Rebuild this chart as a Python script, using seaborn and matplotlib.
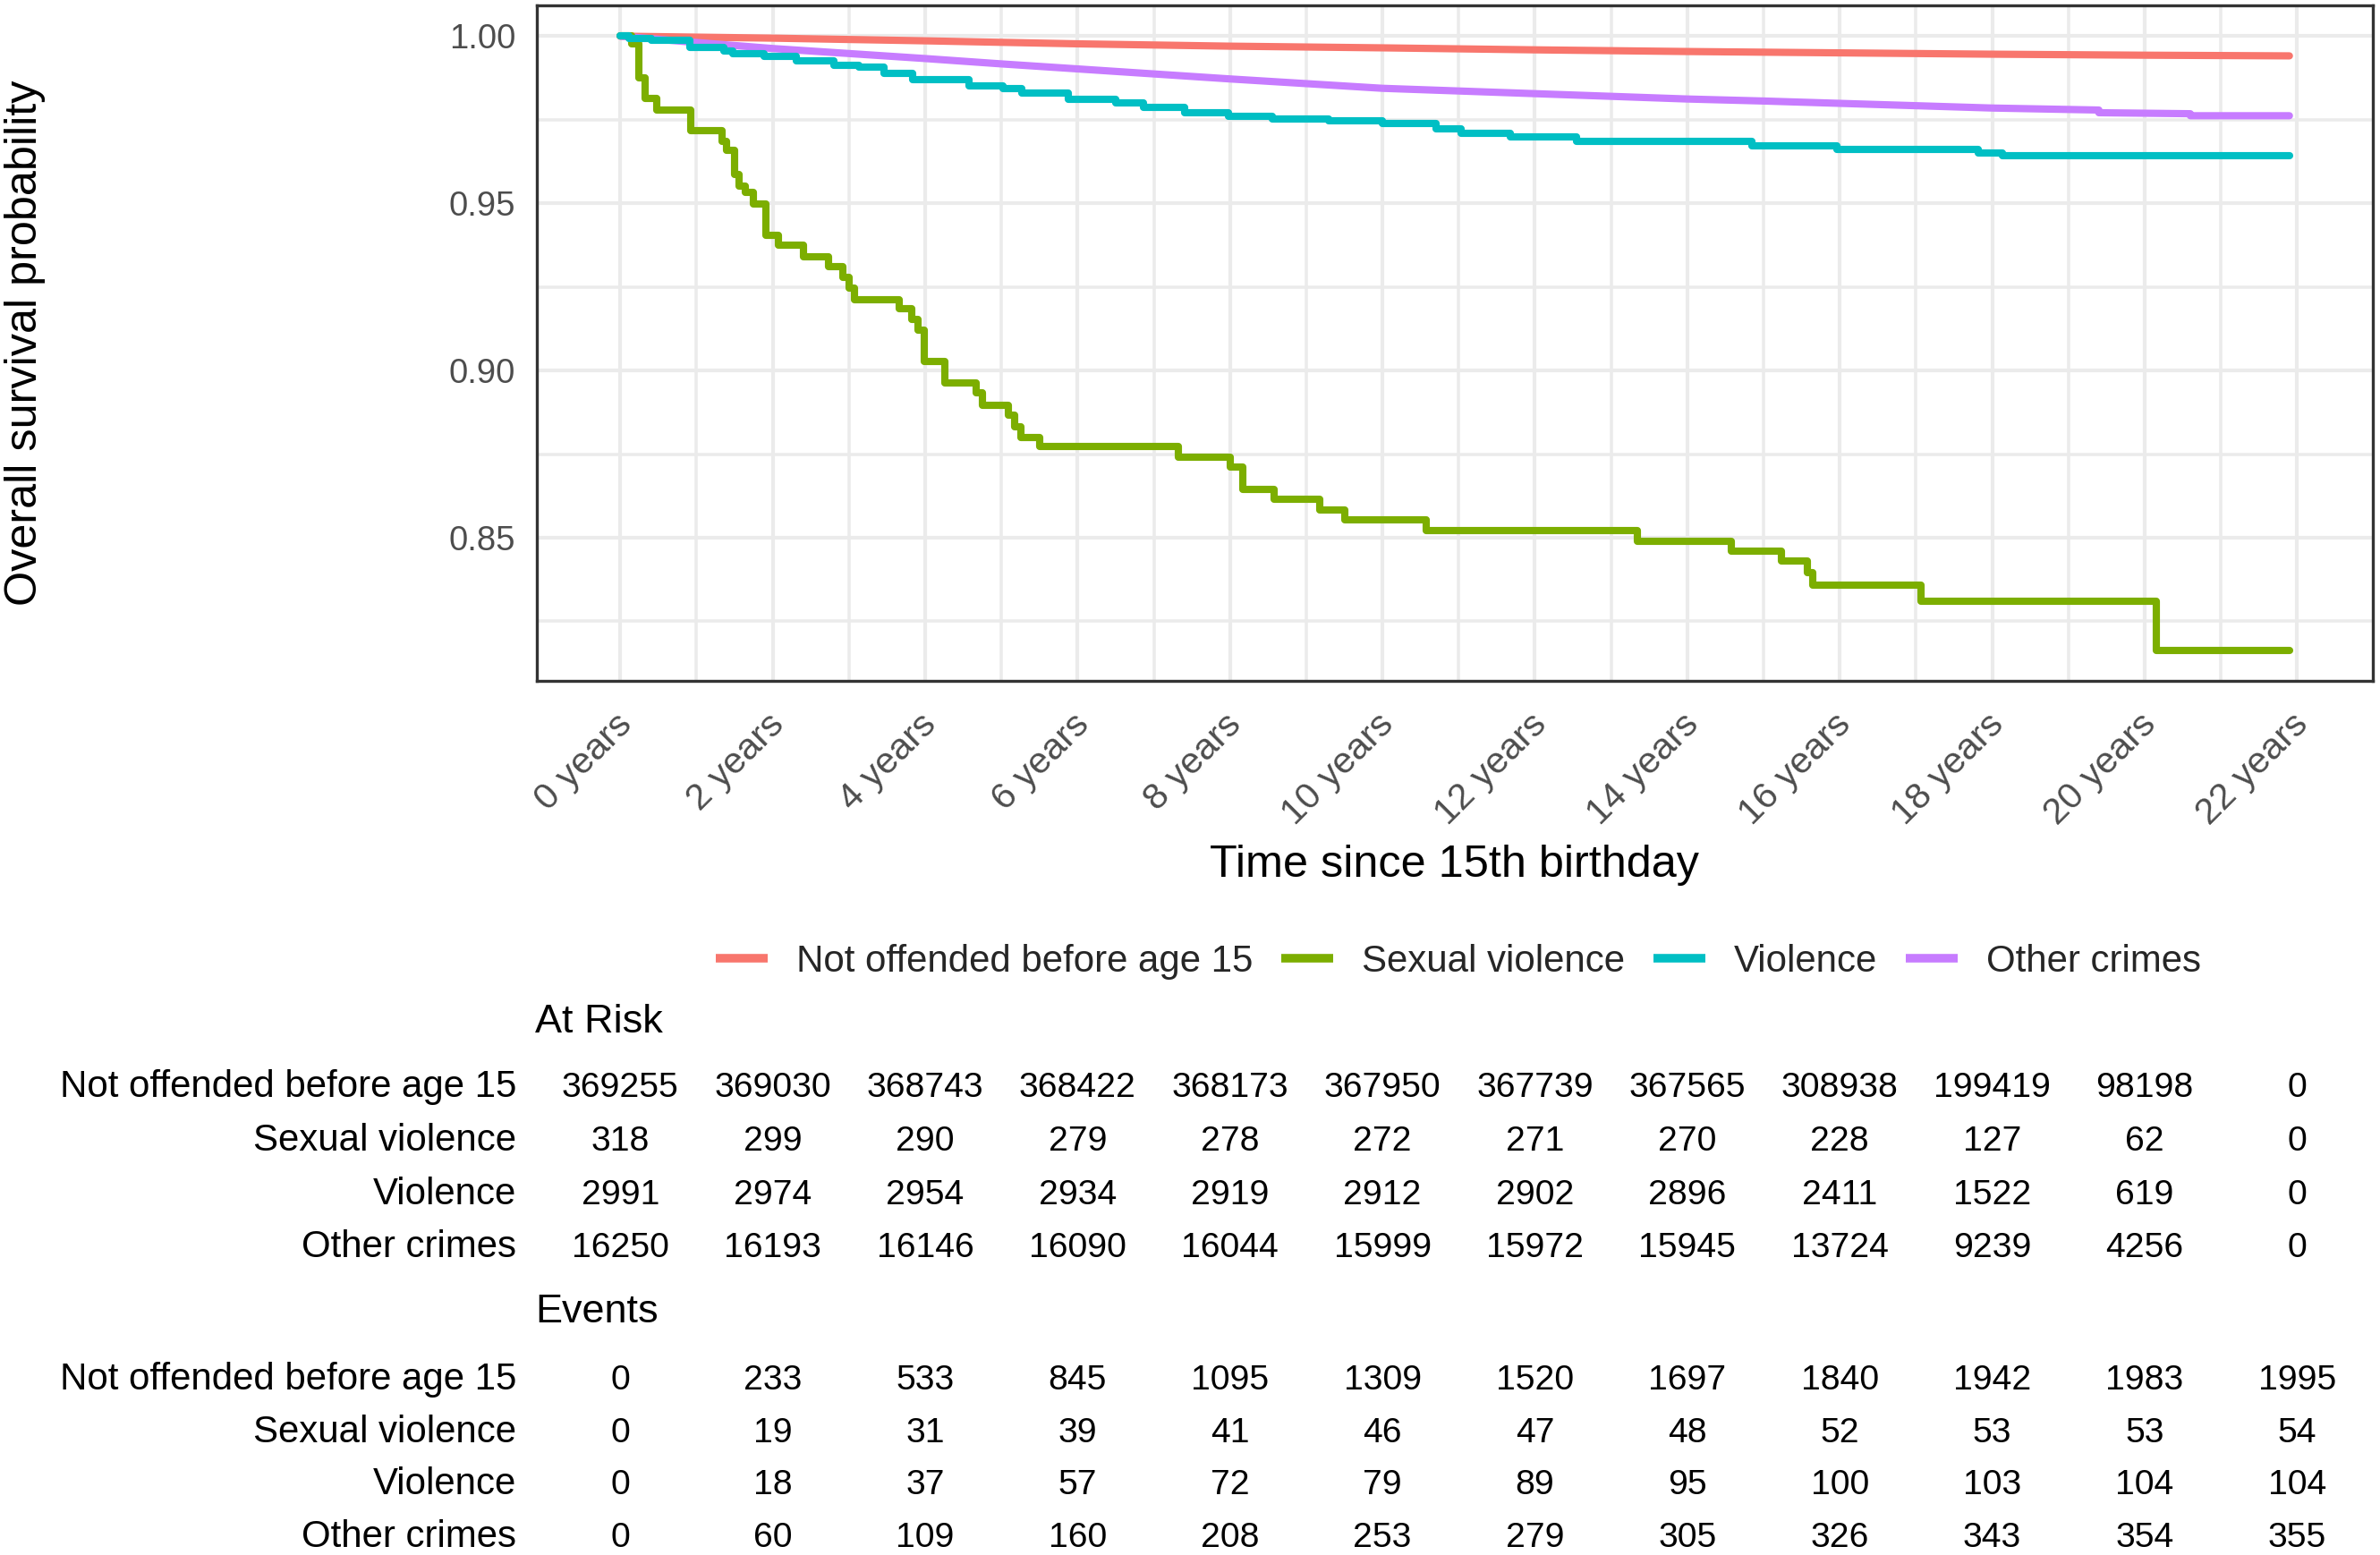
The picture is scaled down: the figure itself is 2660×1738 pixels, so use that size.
import matplotlib
matplotlib.use("Agg")
import matplotlib.pyplot as plt
import matplotlib.transforms as mtransforms
from matplotlib.lines import Line2D
import seaborn as sns
import pandas as pd

# ---------------- data ----------------
groups = ["Not offended before age 15", "Sexual violence", "Violence", "Other crimes"]
colors = ["#F8766D", "#7CAE00", "#00BFC4", "#C77CFF"]

# Not offended before age 15 (near-continuous curve)
no_time = [0, 2, 4, 6, 8, 10, 12, 14, 16, 18, 20, 21.9]
no_surv = [1.0, 0.9994, 0.9986, 0.9977, 0.9970, 0.9965, 0.9959, 0.9954, 0.9950, 0.9946, 0.9943, 0.9941]

# Sexual violence (step curve)
sv_time = [0, 0.148, 0.247, 0.329, 0.477, 0.922, 1.333, 1.399, 1.498, 1.564, 1.646, 1.745,
           1.909, 2.074, 2.403, 2.733, 2.922, 3.004, 3.070, 3.663, 3.827, 3.909, 3.992,
           4.263, 4.675, 4.757, 5.086, 5.169, 5.251, 5.498, 7.325, 8.008, 8.173, 8.584,
           9.177, 9.506, 10.576, 13.35, 14.58, 15.23, 15.57, 15.65, 17.07, 20.15, 21.9]
sv_surv = [1.0, 0.9976, 0.9874, 0.9814, 0.9780, 0.9717, 0.9684, 0.9658, 0.9585, 0.9551, 0.9532, 0.9498,
           0.9405, 0.9375, 0.9340, 0.9311, 0.9278, 0.9247, 0.9211, 0.9185, 0.9154, 0.9122, 0.9026,
           0.8963, 0.8933, 0.8897, 0.8866, 0.8833, 0.8800, 0.8773, 0.8740, 0.8711, 0.8645, 0.8614,
           0.8584, 0.8554, 0.8521, 0.8490, 0.8459, 0.8430, 0.8397, 0.8357, 0.8310, 0.8164, 0.8164]

# Violence (step curve)
vi_time = [0, 0.12, 0.41, 0.91, 1.36, 1.48, 1.89, 2.31, 2.80, 3.13, 3.46, 3.83, 4.57, 5.02, 5.27,
           5.88, 6.50, 6.87, 7.41, 7.98, 8.56, 9.30, 10.00, 10.70, 11.03, 11.68, 12.55, 14.85,
           15.96, 17.82, 18.14, 21.9]
vi_surv = [1.0, 0.9993, 0.9987, 0.9965, 0.9956, 0.9947, 0.9939, 0.9926, 0.9912, 0.9907, 0.9890,
           0.9870, 0.9850, 0.9843, 0.9830, 0.9812, 0.9800, 0.9788, 0.9772, 0.9760, 0.9753, 0.9748,
           0.9740, 0.9724, 0.9710, 0.9698, 0.9684, 0.9671, 0.9660, 0.9651, 0.9642, 0.9642]

# Other crimes (near-continuous curve with a few visible drops)
oc_time = [0, 1, 2, 3, 4, 5, 6, 7, 8, 9, 10, 11, 12, 13, 14, 15, 16, 17, 18, 19.4, 19.4, 20.6, 20.6, 21.9]
oc_surv = [1.0, 0.9981, 0.9963, 0.9948, 0.9933, 0.9917, 0.9902, 0.9887, 0.9872, 0.9858, 0.9844,
           0.9836, 0.9828, 0.9820, 0.9812, 0.9806, 0.9799, 0.9792, 0.9785, 0.9779, 0.9771, 0.9768,
           0.9762, 0.9762]

table_times = [0, 2, 4, 6, 8, 10, 12, 14, 16, 18, 20, 22]
at_risk = {
    "Not offended before age 15": [369255, 369030, 368743, 368422, 368173, 367950, 367739, 367565, 308938, 199419, 98198, 0],
    "Sexual violence": [318, 299, 290, 279, 278, 272, 271, 270, 228, 127, 62, 0],
    "Violence": [2991, 2974, 2954, 2934, 2919, 2912, 2902, 2896, 2411, 1522, 619, 0],
    "Other crimes": [16250, 16193, 16146, 16090, 16044, 15999, 15972, 15945, 13724, 9239, 4256, 0],
}
events = {
    "Not offended before age 15": [0, 233, 533, 845, 1095, 1309, 1520, 1697, 1840, 1942, 1983, 1995],
    "Sexual violence": [0, 19, 31, 39, 41, 46, 47, 48, 52, 53, 53, 54],
    "Violence": [0, 18, 37, 57, 72, 79, 89, 95, 100, 103, 104, 104],
    "Other crimes": [0, 60, 109, 160, 208, 253, 279, 305, 326, 343, 354, 355],
}

# ---------------- style ----------------
sns.set_style("white")
plt.rcParams["font.family"] = ["Liberation Sans", "DejaVu Sans"]

W, H, DPI = 2661, 1738, 300
fig = plt.figure(figsize=(W / DPI, H / DPI), dpi=DPI)
fig.patch.set_facecolor("white")

pl, pr, pt, pb = 600, 2652, 6, 761
ax = fig.add_axes([pl / W, 1 - pb / H, (pr - pl) / W, (pb - pt) / H])

palette = dict(zip(groups, colors))
LW = 1.95

step_df = pd.concat([
    pd.DataFrame({"time": sv_time, "surv": sv_surv, "group": groups[1]}),
    pd.DataFrame({"time": vi_time, "surv": vi_surv, "group": groups[2]}),
])
lin_df = pd.concat([
    pd.DataFrame({"time": no_time, "surv": no_surv, "group": groups[0]}),
    pd.DataFrame({"time": oc_time, "surv": oc_surv, "group": groups[3]}),
])

sns.lineplot(data=lin_df, x="time", y="surv", hue="group", palette=palette, ax=ax,
             estimator=None, sort=False, legend=False, linewidth=LW)
sns.lineplot(data=step_df, x="time", y="surv", hue="group", palette=palette, ax=ax,
             estimator=None, sort=False, legend=False, linewidth=LW, drawstyle="steps-post")

ax.set_xlim(-1.095, 22.995)
ax.set_ylim(0.8072, 1.0092)

ax.set_xticks(table_times)
ax.set_xticklabels([f"{t} years" for t in table_times])
ax.set_xticks(range(1, 23, 2), minor=True)
ax.set_yticks([0.85, 0.90, 0.95, 1.00])
ax.set_yticklabels(["0.85", "0.90", "0.95", "1.00"])
ax.set_yticks([0.825, 0.875, 0.925, 0.975], minor=True)

ax.grid(True, which="major", color="#EBEBEB", linewidth=1.0)
ax.grid(True, which="minor", color="#EBEBEB", linewidth=0.85)
ax.set_axisbelow(True)
for s in ax.spines.values():
    s.set_color("#333333")
    s.set_linewidth(0.8)
    s.set_visible(True)

ax.tick_params(axis="both", which="major", length=2.7, width=0.8, color="#333333",
               labelcolor="#4D4D4D")
ax.tick_params(axis="y", which="major", labelsize=9.2, pad=3.0)
ax.tick_params(axis="x", which="major", labelsize=9.9, pad=4.4)
ax.tick_params(axis="both", which="minor", length=0)

for lab in ax.get_xticklabels():
    lab.set_rotation(45)
    lab.set_ha("right")
    lab.set_va("top")
offset = mtransforms.ScaledTranslation(20 / DPI, 0, fig.dpi_scale_trans)
for lab in ax.get_xticklabels():
    lab.set_transform(lab.get_transform() + offset)

ax.set_xlabel("Time since 15th birthday", fontsize=12.1, color="black")
ax.xaxis.set_label_coords(0.5, (pb - 967) / (pb - pt))
ax.xaxis.label.set_va("center")
ax.set_ylabel("Overall survival probability", fontsize=12.1, color="black")
ax.yaxis.set_label_coords((28 - pl) / (pr - pl), 0.5)
ax.yaxis.label.set_va("center")

# legend
handles = [Line2D([0], [0], color=c, linewidth=2.3, solid_capstyle="butt") for c in colors]
fig.legend(handles, groups, loc="center", bbox_to_anchor=(1630 / W, 1 - 1075 / H), ncol=4,
           frameon=False, fontsize=10.1, handlelength=1.38, handletextpad=0.76,
           columnspacing=0.76, borderaxespad=0, borderpad=0)

# risk tables
trans = mtransforms.blended_transform_factory(ax.transData, fig.transFigure)

def draw_table(title, title_base, row_bases, values):
    fig.text(598 / W, 1 - title_base / H, title, ha="left", va="baseline", fontsize=10.8, color="black")
    for g, yb in zip(groups, row_bases):
        fig.text(577 / W, 1 - yb / H, g, ha="right", va="baseline", fontsize=10.1, color="black")
        for t, v in zip(table_times, values[g]):
            fig.text(t, 1 - yb / H, str(v), transform=trans, ha="center", va="baseline",
                     fontsize=9.4, color="black")

draw_table("At Risk", 1154, [1226, 1286, 1346, 1405], at_risk)
draw_table("Events", 1478, [1553, 1612, 1670, 1729], events)

fig.savefig("out.png", dpi=DPI, facecolor="white")
